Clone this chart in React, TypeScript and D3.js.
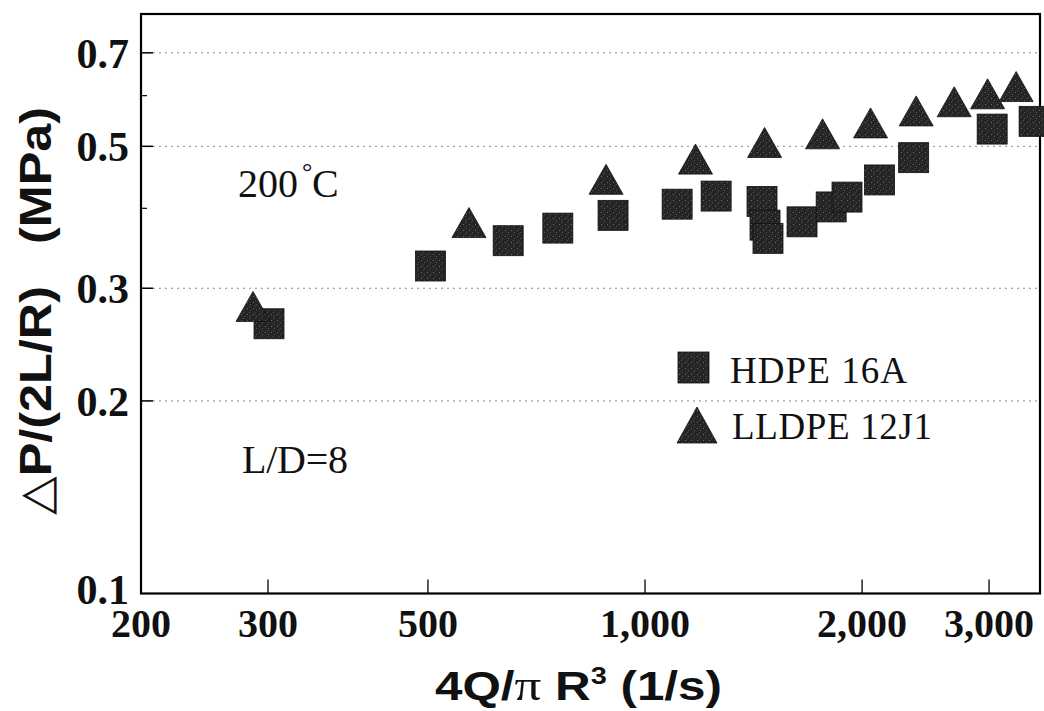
import React from 'react';
import * as d3 from 'd3';

// Data
const hdpeRate = [301, 504, 646, 757, 903, 1108, 1255, 1453, 1467, 1481, 1651, 1812, 1906, 2114, 2358, 3030, 3464];
const hdpeStress = [0.264, 0.325, 0.356, 0.3725, 0.39, 0.406, 0.418, 0.41, 0.3765, 0.359, 0.381, 0.402, 0.4165, 0.443, 0.48, 0.532, 0.547];
const lldpeRate = [286, 570, 883, 1175, 1465, 1763, 2055, 2377, 2684, 2986, 3271];
const lldpeStress = [0.281, 0.38, 0.444, 0.4775, 0.507, 0.523, 0.544, 0.568, 0.587, 0.604, 0.62];

const xTicks = [200, 300, 500, 1000, 2000, 3000];
const xTickLabels = ['200', '300', '500', '1,000', '2,000', '3,000'];
const yTicks = [0.1, 0.2, 0.3, 0.5, 0.7];
const yTickLabels = ['0.1', '0.2', '0.3', '0.5', '0.7'];
const yMinorTicks = [0.4, 0.6];
const gridValues = [0.2, 0.3, 0.5, 0.7];
const seriesNames = ['HDPE 16A', 'LLDPE 12J1'];

const W = 1044;
const H = 711;
const L = 141;
const R = 1040;
const T = 14;
const B = 593.5;

const serif = '"Liberation Serif", "Times New Roman", serif';
const sans = '"Liberation Sans", Arial, sans-serif';
const markFill = '#252525';

export default function App() {
  const x = d3.scaleLog().domain([200, 3530]).range([L, R]);
  const y = d3.scaleLog().domain([0.1, 0.805]).range([B, T]);

  const sq = 30;
  const tw = 34;
  const th = 30;
  const tri = (cx: number, cy: number, w: number, h: number) => {
    const p = d3.path();
    p.moveTo(cx, cy - h / 2);
    p.lineTo(cx + w / 2, cy + h / 2);
    p.lineTo(cx - w / 2, cy + h / 2);
    p.closePath();
    return p.toString();
  };

  return (
    <svg width={W} height={H} style={{ position: 'absolute', left: 0, top: 0, background: '#fff' }}>
      <defs>
        <pattern id="speck" width="6" height="6" patternUnits="userSpaceOnUse">
          <rect width="6" height="6" fill={markFill} />
          <rect x="1" y="2" width="1" height="1" fill="#6a6a6a" />
          <rect x="4" y="4" width="1" height="1" fill="#555" />
          <rect x="3" y="0" width="1" height="1" fill="#4a4a4a" />
        </pattern>
      </defs>
      <rect x={0} y={0} width={W} height={H} fill="#fff" />

      {/* grid */}
      {gridValues.map((v) => (
        <line key={'g' + v} x1={L} x2={R} y1={y(v)} y2={y(v)} stroke="#8a8a8a" strokeWidth={1} strokeDasharray="2 4" />
      ))}

      {/* y ticks */}
      {gridValues.map((v) => (
        <line key={'yt' + v} x1={L} x2={L + 12} y1={y(v)} y2={y(v)} stroke="#000" strokeWidth={1.5} />
      ))}
      {yMinorTicks.map((v) => (
        <line key={'ym' + v} x1={L} x2={L + 6} y1={y(v)} y2={y(v)} stroke="#000" strokeWidth={1.2} />
      ))}
      {/* x ticks */}
      {xTicks.slice(1).map((v) => (
        <line key={'xt' + v} x1={x(v)} x2={x(v)} y1={B} y2={B - 14} stroke="#000" strokeWidth={1.3} />
      ))}

      {/* frame */}
      <rect x={L} y={T} width={R - L} height={B - T} fill="none" stroke="#000" strokeWidth={2.2} />

      {/* HDPE squares */}
      {hdpeRate.map((r, i) => (
        <rect key={'h' + i} x={x(r) - sq / 2} y={y(hdpeStress[i]) - sq / 2} width={sq} height={sq} fill="url(#speck)" stroke="#111" strokeWidth={0.8} />
      ))}
      {/* LLDPE triangles */}
      {lldpeRate.map((r, i) => (
        <path key={'l' + i} d={tri(x(r), y(lldpeStress[i]), tw, th)} fill="url(#speck)" stroke="#111" strokeWidth={0.8} />
      ))}

      {/* tick labels */}
      {yTicks.map((v, i) => (
        <text key={'yl' + v} x={129} y={y(v) + (v === 0.1 ? 10 : 15)} textAnchor="end" fontFamily={serif} fontWeight="bold" fontSize={42} fill="#111">
          {yTickLabels[i]}
        </text>
      ))}
      {xTicks.map((v, i) => (
        <text key={'xl' + v} x={x(v)} y={637} textAnchor="middle" fontFamily={serif} fontWeight="bold" fontSize={40} fill="#111">
          {xTickLabels[i]}
        </text>
      ))}

      {/* annotations */}
      <text x={238} y={197} fontFamily={serif} fontSize={40} fill="#111">200</text>
      <text x={302} y={180} fontFamily={serif} fontSize={26} fill="#111">°</text>
      <text x={312} y={197} fontFamily={serif} fontSize={40} fill="#111">C</text>
      <text x={242} y={473} fontFamily={serif} fontSize={40} textLength={106} fill="#111">L/D=8</text>

      {/* legend */}
      <rect x={678} y={352} width={31} height={31} fill="url(#speck)" stroke="#111" strokeWidth={0.8} />
      <text x={730} y={383} fontFamily={serif} fontSize={37} textLength={177} fill="#111">{seriesNames[0]}</text>
      <path d={tri(697, 425, 40, 36)} fill="url(#speck)" stroke="#111" strokeWidth={0.8} />
      <text x={732} y={439} fontFamily={serif} fontSize={37} textLength={200} fill="#111">{seriesNames[1]}</text>

      {/* y title */}
      <text transform="translate(51,311) rotate(-90)" textAnchor="middle" fontFamily={sans} fontWeight="bold" fontSize={45} textLength={408} lengthAdjust="spacingAndGlyphs" fill="#111">
        <tspan fontFamily='"DejaVu Sans", sans-serif' fontWeight="normal">△</tspan>P/(2L/R)&#160;&#160;&#160;(MPa)
      </text>

      {/* x title */}
      <text x={435} y={700} fontFamily={sans} fontWeight="bold" fontSize={41} textLength={287} lengthAdjust="spacingAndGlyphs" fill="#111">
        4Q/<tspan fontFamily={serif} fontWeight="normal" fontSize={44}>π</tspan> R<tspan fontSize={24} dy={-16}>3</tspan><tspan dy={16}> (1/s)</tspan>
      </text>
    </svg>
  );
}
